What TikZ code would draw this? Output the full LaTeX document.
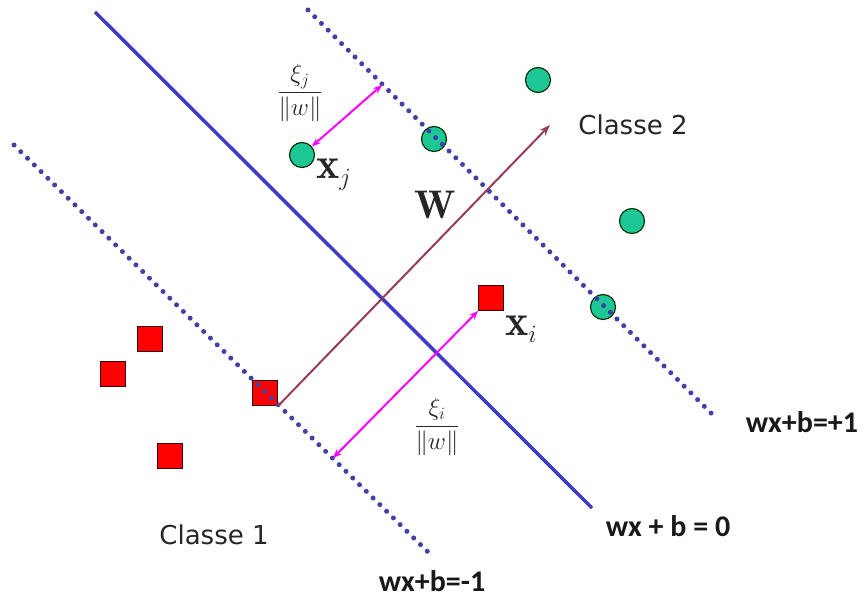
\documentclass[tikz,border=0pt]{standalone}
\usepackage{fontspec}
\newfontfamily\lblfont{DejaVu Sans}
\newfontfamily\eqfont{Carlito}
\usetikzlibrary{arrows.meta}
\definecolor{ptgreen}{RGB}{30,200,150}
\definecolor{ptred}{RGB}{255,0,0}
\definecolor{hypblue}{RGB}{60,60,200}
\definecolor{dotblue}{RGB}{65,65,165}
\definecolor{wbrown}{RGB}{150,60,90}
\definecolor{slackmag}{RGB}{255,0,255}
\tikzset{
  ptcircle/.style={circle,draw=black!80!green,line width=1.2pt,fill=ptgreen,minimum size=25pt,inner sep=0pt},
  ptsquare/.style={rectangle,draw=black!80!red,line width=1pt,fill=ptred,minimum size=25pt,inner sep=0pt},
  hyperplane/.style={draw=hypblue,line width=3.5pt},
  marginline/.style={draw=dotblue,line width=5pt,line cap=round,dash pattern=on 0pt off 9.5pt},
  warrow/.style={draw=wbrown,line width=2pt,-{Stealth[length=11pt,width=8pt]}},
  slack/.style={draw=slackmag,line width=2pt,{Stealth[length=9pt,width=7pt]}-{Stealth[length=9pt,width=7pt]}},
  classlbl/.style={inner sep=0pt,font=\lblfont\fontsize{26}{30}\selectfont,text=black!85},
  eqlbl/.style={inner sep=0pt,font=\eqfont\bfseries\fontsize{30}{34}\selectfont,text=black!90},
  mathlbl/.style={inner sep=0pt,font=\fontsize{44}{50}\selectfont,text=black!85},
  wlbl/.style={inner sep=0pt,font=\fontsize{40}{46}\selectfont,text=black!85},
  fraclbl/.style={inner sep=0pt,font=\fontsize{24}{28}\selectfont,text=black!85}
}
\begin{document}
\begin{tikzpicture}[x=1pt,y=-1pt]
\useasboundingbox (0,0) rectangle (864,599);
% line end points
\coordinate (h0a) at (95,12);
\coordinate (h0b) at (592,508);
\coordinate (hpa) at (308,10);
\coordinate (hpb) at (713,415);
\coordinate (hma) at (14,145);
\coordinate (hmb) at (428,552);
\coordinate (wtip) at (550,125);
\coordinate (mj) at (382,85);
\coordinate (mi) at (333,458);
% hyperplane
\draw[hyperplane] (h0a) -- (h0b);
% points
\node[ptcircle] (c1) at (538,80) {};
\node[ptcircle] (c2) at (434,139) {};
\node[ptcircle] (c3) at (302,155) {};
\node[ptcircle] (c4) at (632,221) {};
\node[ptcircle] (c5) at (603,307) {};
\node[ptsquare] (s1) at (150,339) {};
\node[ptsquare] (s2) at (113,374) {};
\node[ptsquare] (s3) at (170,456) {};
\node[ptsquare] (s4) at (265,393) {};
\node[ptsquare] (s5) at (491,298) {};
% margins
\draw[marginline] (hpa) -- (hpb);
\draw[marginline] (hma) -- (hmb);
% w vector
\draw[warrow] (s4.south east) -- (wtip);
% slack arrows
\draw[slack] (c3) -- (mj);
\draw[slack] (s5.south west) -- (mi);
% labels
\node[classlbl] (cl2) at (633,125) {Classe 2};
\node[classlbl] (cl1) at (214,535) {Classe 1};
\node[fraclbl] (fj) at (300,93) {$\displaystyle\frac{\xi_j}{\|w\|}$};
\node[fraclbl] (fi) at (437,427) {$\displaystyle\frac{\xi_i}{\|w\|}$};
\node[mathlbl,anchor=base west] (xj) at (316,178) {$\mathbf{x}_j$};
\node[wlbl,anchor=base west] (wl) at (414,218) {$\mathbf{W}$};
\node[mathlbl,anchor=base west] (xi) at (505,335) {$\mathbf{x}_i$};
\node[eqlbl,anchor=base] (ep) at (802,432) {wx+b=+1};
\node[eqlbl,anchor=base] (e0) at (668,536) {wx + b = 0};
\node[eqlbl,anchor=base] (em) at (432,591) {wx+b=-1};
\end{tikzpicture}
\end{document}
